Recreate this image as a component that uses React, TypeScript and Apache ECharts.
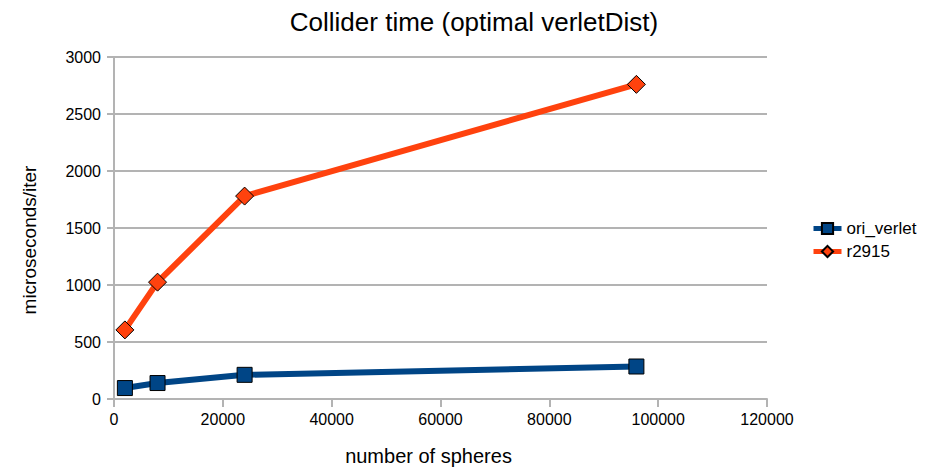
import React, { useEffect, useRef } from "react";
import * as echarts from "echarts";

const xValues = [2000, 8000, 24000, 96000];
const oriVerlet = [96, 140, 212, 285];
const r2915 = [606, 1025, 1780, 2760];
const seriesNames = ["ori_verlet", "r2915"];
const titleText = "Collider time (optimal verletDist)";
const xAxisName = "number of spheres";
const yAxisName = "microseconds/iter";

const FONT = "'Liberation Sans', Arial, sans-serif";

export default function App() {
  const ref = useRef<HTMLDivElement>(null);
  useEffect(() => {
    if (!ref.current) return;
    const chart = echarts.init(ref.current, undefined, { renderer: "svg" });
    const pair = (ys: number[]) => xValues.map((x, i) => [x, ys[i]]);
    chart.setOption({
      animation: false,
      backgroundColor: "#ffffff",
      textStyle: { fontFamily: FONT },
      title: {
        text: titleText,
        left: 469,
        textAlign: "center",
        top: 4,
        textStyle: { fontFamily: FONT, fontSize: 26, fontWeight: "normal", color: "#000" },
      },
      legend: {
        orient: "vertical",
        left: 806,
        top: 215,
        itemWidth: 28,
        itemHeight: 14,
        itemGap: 6,
        lineStyle: { width: 5 },
        textStyle: { fontFamily: FONT, fontSize: 17, color: "#000" },
        data: seriesNames,
      },
      grid: { left: 114, right: 170, top: 57, bottom: 71, containLabel: false },
      xAxis: {
        type: "value",
        min: 0,
        max: 120000,
        interval: 20000,
        name: xAxisName,
        nameLocation: "middle",
        nameGap: 47,
        nameTextStyle: { fontFamily: FONT, fontSize: 20, color: "#000", padding: [0, 24, 0, 0] },
        axisLine: { show: true, lineStyle: { color: "#b3b3b3", width: 2 } },
        axisTick: { show: true, length: 8, lineStyle: { color: "#b3b3b3", width: 2 } },
        axisLabel: {
          fontFamily: FONT,
          fontSize: 16,
          color: "#000",
          margin: 12,
          formatter: (v: number) => String(v),
        },
        splitLine: { show: false },
      },
      yAxis: {
        type: "value",
        min: 0,
        max: 3000,
        interval: 500,
        name: yAxisName,
        nameLocation: "middle",
        nameGap: 75,
        nameRotate: 90,
        nameTextStyle: { fontFamily: FONT, fontSize: 19, color: "#000", padding: [0, 24, 0, 0] },
        axisLine: { show: true, lineStyle: { color: "#b3b3b3", width: 2 } },
        axisTick: { show: true, length: 7, lineStyle: { color: "#b3b3b3", width: 2 } },
        axisLabel: {
          fontFamily: FONT,
          fontSize: 16,
          color: "#000",
          margin: 13,
          formatter: (v: number) => String(v),
        },
        splitLine: { show: true, lineStyle: { color: "#b3b3b3", width: 2 } },
      },
      series: [
        {
          name: seriesNames[0],
          type: "line",
          data: pair(oriVerlet),
          symbol: "rect",
          symbolSize: 15,
          lineStyle: { color: "#004586", width: 6 },
          itemStyle: { color: "#004586", borderColor: "#000", borderWidth: 1 },
          z: 3,
        },
        {
          name: seriesNames[1],
          type: "line",
          data: pair(r2915),
          symbol: "diamond",
          symbolSize: 18,
          lineStyle: { color: "#ff420e", width: 6 },
          itemStyle: { color: "#ff420e", borderColor: "#000", borderWidth: 1 },
          z: 3,
        },
      ],
    });
    return () => chart.dispose();
  }, []);
  return (
    <div
      ref={ref}
      style={{ position: "fixed", left: 0, top: 0, width: 937, height: 471, background: "#fff" }}
    />
  );
}
